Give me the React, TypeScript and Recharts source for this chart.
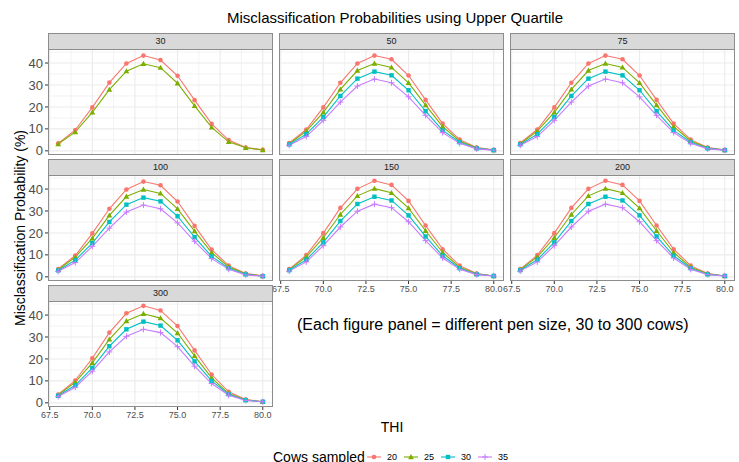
import React from 'react';
import { LineChart, Line, XAxis, YAxis, ReferenceLine } from 'recharts';

// ---------- DATA ----------
const thi = [68, 69, 70, 71, 72, 73, 74, 75, 76, 77, 78, 79, 80];
const seriesNames = ['20', '25', '30', '35'];
const seriesColors = ['#F8766D', '#7CAE00', '#00BFC4', '#C77CFF'];
const xTicks = [67.5, 70, 72.5, 75, 77.5, 80];
const xMinor = [68.75, 71.25, 73.75, 76.25, 78.75];
const yTicks = [0, 10, 20, 30, 40];
const yMinor = [5, 15, 25, 35, 45];

// pen size 30 (only 20 and 25 cows sampled)
const pen30_s20 = [3.4, 9.5, 19.8, 31.1, 39.8, 43.4, 41.4, 34.2, 23.1, 12.3, 4.9, 1.5, 0.5];
const pen30_s25 = [3.1, 8.6, 17.5, 27.9, 36.3, 39.7, 37.9, 30.8, 20.5, 10.7, 4.1, 1.4, 0.4];

// pen sizes 50, 75, 100
const penMid_s20 = [3.6, 9.7, 19.8, 31.0, 39.8, 43.4, 41.7, 34.3, 23.2, 12.4, 5.1, 1.5, 0.5];
const penMid_s25 = [3.2, 9.0, 17.5, 28.0, 36.6, 39.8, 38.0, 31.0, 20.8, 11.0, 4.5, 1.4, 0.3];
const penMid_s30 = [2.9, 7.6, 15.4, 25.0, 32.9, 36.1, 34.4, 27.6, 18.1, 9.3, 3.9, 1.1, 0.3];
const penMid_s35 = [2.5, 6.5, 13.9, 22.2, 29.5, 32.7, 31.0, 24.6, 16.2, 8.3, 3.4, 0.9, 0.3];

// pen sizes 150, 200
const penLarge_s20 = [3.5, 9.9, 19.9, 31.4, 40.1, 43.8, 41.9, 34.6, 23.4, 12.6, 5.1, 1.5, 0.4];
const penLarge_s25 = [3.3, 9.1, 17.8, 28.4, 36.9, 40.2, 38.3, 31.3, 21.0, 11.1, 4.4, 1.4, 0.4];
const penLarge_s30 = [3.0, 7.8, 15.7, 25.4, 33.2, 36.5, 34.8, 28.0, 18.4, 9.6, 3.9, 1.1, 0.4];
const penLarge_s35 = [2.6, 6.8, 14.2, 22.7, 29.9, 33.1, 31.5, 25.1, 16.5, 8.6, 3.4, 1.0, 0.4];

// pen size 300
const pen300_s20 = [3.8, 10.2, 20.3, 32.0, 40.8, 44.2, 42.1, 35.0, 23.9, 12.9, 5.0, 1.5, 0.5];
const pen300_s25 = [3.5, 9.4, 18.2, 28.9, 37.3, 40.6, 38.6, 31.8, 21.4, 11.4, 4.2, 1.4, 0.5];
const pen300_s30 = [3.2, 8.0, 15.9, 25.8, 33.5, 37.0, 35.2, 28.5, 18.9, 10.0, 3.9, 1.2, 0.5];
const pen300_s35 = [2.9, 7.1, 14.4, 23.2, 30.3, 33.5, 32.0, 25.6, 16.7, 8.8, 3.5, 1.1, 0.5];

// ---------- LAYOUT ----------
const FONT = '"Liberation Sans", Arial, sans-serif';
const colX = [48, 279, 510];
const rowTop = [33, 159, 285];
const plotW = 225;
const stripH = 16;
const plotH = 106;
const xDomain: [number, number] = [67.4, 80.6];
const yDomain: [number, number] = [-1.9, 46.4];
const borderColor = '#8C8C8C';
const gridColor = '#EBEBEB';

type PanelDef = {
  label: string;
  col: number;
  row: number;
  showY: boolean;
  showX: boolean;
  series: (number[] | null)[];
};

const panels: PanelDef[] = [
  { label: '30', col: 0, row: 0, showY: true, showX: false, series: [pen30_s20, pen30_s25, null, null] },
  { label: '50', col: 1, row: 0, showY: false, showX: false, series: [penMid_s20, penMid_s25, penMid_s30, penMid_s35] },
  { label: '75', col: 2, row: 0, showY: false, showX: false, series: [penMid_s20, penMid_s25, penMid_s30, penMid_s35] },
  { label: '100', col: 0, row: 1, showY: true, showX: false, series: [penMid_s20, penMid_s25, penMid_s30, penMid_s35] },
  { label: '150', col: 1, row: 1, showY: false, showX: true, series: [penLarge_s20, penLarge_s25, penLarge_s30, penLarge_s35] },
  { label: '200', col: 2, row: 1, showY: false, showX: true, series: [penLarge_s20, penLarge_s25, penLarge_s30, penLarge_s35] },
  { label: '300', col: 0, row: 2, showY: true, showX: true, series: [pen300_s20, pen300_s25, pen300_s30, pen300_s35] },
];

function Marker({ kind, cx, cy, color }: { kind: number; cx: number; cy: number; color: string }) {
  if (cx == null || cy == null || isNaN(cx) || isNaN(cy)) return null;
  if (kind === 0) return <circle cx={cx} cy={cy} r={2.3} fill={color} />;
  if (kind === 1) {
    const s = 2.9;
    return <polygon points={`${cx},${cy - s} ${cx - s},${cy + s * 0.75} ${cx + s},${cy + s * 0.75}`} fill={color} />;
  }
  if (kind === 2) return <rect x={cx - 2.2} y={cy - 2.2} width={4.4} height={4.4} fill={color} />;
  return (
    <g stroke={color} strokeWidth={1}>
      <line x1={cx - 3} y1={cy} x2={cx + 3} y2={cy} />
      <line x1={cx} y1={cy - 3} x2={cx} y2={cy + 3} />
    </g>
  );
}

function Panel({ p }: { p: PanelDef }) {
  const data = thi.map((x, i) => {
    const row: Record<string, number> = { x };
    p.series.forEach((s, k) => {
      if (s) row['s' + seriesNames[k]] = s[i];
    });
    return row;
  });
  const yW = 48;
  const xH = 20;
  const plotLeft = colX[p.col];
  const plotTop = rowTop[p.row] + stripH;
  const chartLeft = p.showY ? plotLeft - yW : plotLeft;
  const chartW = plotW + (p.showY ? yW : 0);
  const chartH = plotH + (p.showX ? xH : 0);

  return (
    <>
      <div style={{ position: 'absolute', left: chartLeft, top: plotTop }}>
        <LineChart width={chartW} height={chartH} data={data} margin={{ top: 0, right: 0, bottom: 0, left: 0 }}>
          <XAxis
            dataKey="x"
            type="number"
            domain={xDomain}
            ticks={xTicks}
            allowDataOverflow
            hide={!p.showX}
            height={xH}
            tickFormatter={(v: number) => v.toFixed(1)}
            tick={{ fontSize: 9, fill: '#4D4D4D', fontFamily: FONT }}
            tickSize={3}
            tickMargin={2}
            axisLine={false}
            tickLine={{ stroke: '#333333' }}
            interval={0}
          />
          <YAxis
            type="number"
            domain={yDomain}
            ticks={yTicks}
            allowDataOverflow
            hide={!p.showY}
            width={yW}
            tick={{ fontSize: 13, fill: '#4D4D4D', fontFamily: FONT }}
            tickSize={3}
            tickMargin={2}
            axisLine={false}
            tickLine={{ stroke: '#333333' }}
            interval={0}
          />
          {xMinor.map((v) => (
            <ReferenceLine key={'xm' + v} x={v} stroke={gridColor} strokeWidth={0.6} />
          ))}
          {yMinor.map((v) => (
            <ReferenceLine key={'ym' + v} y={v} stroke={gridColor} strokeWidth={0.6} />
          ))}
          {xTicks.map((v) => (
            <ReferenceLine key={'x' + v} x={v} stroke={gridColor} strokeWidth={1.1} />
          ))}
          {yTicks.map((v) => (
            <ReferenceLine key={'y' + v} y={v} stroke={gridColor} strokeWidth={1.1} />
          ))}
          {p.series.map((s, k) =>
            s ? (
              <Line
                key={seriesNames[k]}
                dataKey={'s' + seriesNames[k]}
                stroke={seriesColors[k]}
                strokeWidth={1.1}
                isAnimationActive={false}
                activeDot={false}
                dot={(dp: any) => (
                  <Marker key={'d' + k + '-' + dp.index} kind={k} cx={dp.cx} cy={dp.cy} color={seriesColors[k]} />
                )}
              />
            ) : null
          )}
        </LineChart>
      </div>
      <div
        style={{
          position: 'absolute',
          left: plotLeft,
          top: plotTop,
          width: plotW,
          height: plotH,
          boxSizing: 'border-box',
          border: `1px solid ${borderColor}`,
          pointerEvents: 'none',
        }}
      />
      <div
        style={{
          position: 'absolute',
          left: plotLeft,
          top: rowTop[p.row],
          width: plotW,
          height: stripH + 1,
          boxSizing: 'border-box',
          background: '#D9D9D9',
          border: `1px solid ${borderColor}`,
          fontSize: 9,
          color: '#1A1A1A',
          textAlign: 'center',
          lineHeight: `${stripH - 1}px`,
          fontFamily: FONT,
        }}
      >
        {p.label}
      </div>
    </>
  );
}

function LegendBar() {
  const starts = [367, 404, 441, 478];
  const y = 17;
  return (
    <svg
      width={739}
      height={22}
      style={{ position: 'absolute', left: 0, top: 440, fontFamily: FONT }}
    >
      <text x={273} y={y} dominantBaseline="central" fontSize={14} fill="#000">
        Cows sampled
      </text>
      {seriesNames.map((n, i) => (
        <g key={n}>
          <line x1={starts[i]} y1={y} x2={starts[i] + 14} y2={y} stroke={seriesColors[i]} strokeWidth={1.1} />
          <Marker kind={i} cx={starts[i] + 7} cy={y} color={seriesColors[i]} />
          <text x={starts[i] + 20} y={y} dominantBaseline="central" fontSize={9} fill="#000">
            {n}
          </text>
        </g>
      ))}
    </svg>
  );
}

export default function App() {
  return (
    <div
      style={{
        position: 'absolute',
        left: 0,
        top: 0,
        width: 739,
        height: 462,
        background: '#fff',
        overflow: 'hidden',
        fontFamily: FONT,
      }}
    >
      <style>{`.recharts-wrapper, .recharts-surface { overflow: visible !important; }`}</style>
      <div
        style={{
          position: 'absolute',
          left: 0,
          top: 8,
          width: 790,
          textAlign: 'center',
          fontSize: 15,
          lineHeight: '20px',
          color: '#000',
        }}
      >
        Misclassification Probabilities using Upper Quartile
      </div>
      {panels.map((p) => (
        <Panel key={p.label} p={p} />
      ))}
      <div
        style={{
          position: 'absolute',
          left: 20,
          top: 228,
          transform: 'translate(-50%, -50%) rotate(-90deg)',
          whiteSpace: 'nowrap',
          fontSize: 14,
          color: '#000',
        }}
      >
        Misclassification Probability (%)
      </div>
      <div
        style={{
          position: 'absolute',
          left: 297,
          top: 315,
          whiteSpace: 'nowrap',
          fontSize: 16,
          lineHeight: '20px',
          color: '#000',
        }}
      >
        (Each figure panel = different pen size, 30 to 300 cows)
      </div>
      <div
        style={{
          position: 'absolute',
          left: 0,
          top: 418,
          width: 784,
          textAlign: 'center',
          fontSize: 14,
          lineHeight: '18px',
          color: '#000',
        }}
      >
        THI
      </div>
      <LegendBar />
    </div>
  );
}
